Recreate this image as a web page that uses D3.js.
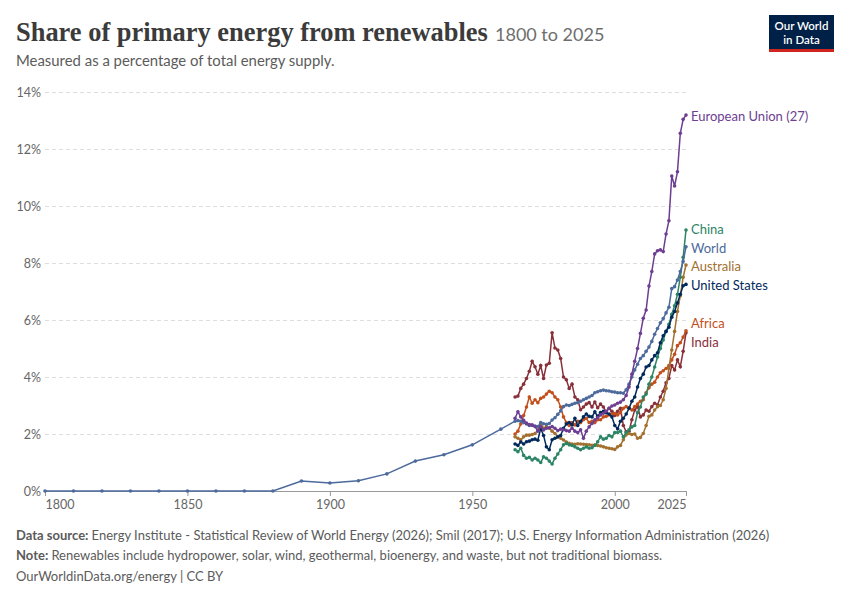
<!DOCTYPE html>
<html>
<head>
<meta charset="utf-8">
<script src="https://cdn.jsdelivr.net/npm/d3@7"></script>
<style>
body{margin:0;background:#fff;}
text{font-family:Lato,"Noto Sans",sans-serif;}
</style>
</head>
<body>
<svg id="chart" width="850" height="600"></svg>
<script>
var svgWidth=850;
var svgHeight=600;

// data (percent of primary energy)
var histYears=[1800,1810,1820,1830,1840,1850,1860,1870,1880,1890,1900,1910,1920,1930,1940,1950,1960];
var worldHist=[0,0,0,0,0,0,0,0,0,0.35,0.28,0.36,0.6,1.05,1.27,1.62,2.17];

var years=d3.range(1965,2026);

var euValues=[2.55,2.78,2.6,2.48,2.38,2.33,2.32,2.26,2.1,2.26,
  2.14,2.2,2.22,2.26,2.2,2.12,2.17,2.15,2.12,2.1,
  2.2,2.1,2.05,2.15,1.85,2.1,2.25,2.37,2.5,2.58,
  2.67,2.73,2.8,2.9,2.98,3.02,3.08,3.12,3.2,3.35,
  3.65,4.1,4.55,5.0,5.53,6.06,6.35,7.19,7.7,8.32,
  8.43,8.46,8.4,9.02,9.48,11.05,10.7,11.2,12.55,13.04,13.19];
var chinaValues=[1.45,1.38,1.5,1.25,1.15,1.18,1.09,1.15,1.09,1.0,
  1.2,1.15,1.05,0.95,1.15,1.3,1.45,1.62,1.67,1.62,
  1.6,1.55,1.5,1.45,1.5,1.55,1.5,1.52,1.6,1.73,
  1.9,1.82,1.85,1.95,1.9,2.05,2.05,2.1,1.9,2.05,
  2.15,2.25,2.3,2.75,2.95,3.3,3.4,3.75,4.0,4.35,
  4.7,5.0,5.3,5.6,5.85,6.2,6.5,6.9,7.5,8.2,9.16];
var worldValues=[2.45,2.47,2.45,2.4,2.35,2.3,2.3,2.28,2.26,2.4,
  2.36,2.34,2.37,2.49,2.57,2.69,2.81,2.96,3.02,3.0,
  3.04,3.08,3.1,3.15,3.2,3.25,3.3,3.35,3.45,3.48,
  3.52,3.54,3.52,3.51,3.48,3.47,3.45,3.45,3.43,3.55,
  3.75,4.0,4.25,4.45,4.65,4.75,4.9,5.05,5.25,5.5,
  5.7,5.9,6.05,6.25,6.45,7.1,7.17,7.4,7.7,8.05,8.57];
var australiaValues=[1.9,1.85,1.8,1.9,1.96,1.96,1.98,2.02,2.14,2.37,
  2.2,2.26,2.2,2.1,2.02,1.9,1.85,1.79,1.72,1.67,
  1.65,1.64,1.66,1.65,1.64,1.63,1.62,1.6,1.61,1.6,
  1.58,1.55,1.52,1.5,1.48,1.46,1.55,1.6,1.8,1.97,
  2.02,1.98,2.0,1.85,1.88,2.02,2.3,2.62,2.67,2.84,
  2.96,3.0,3.2,3.6,4.3,4.95,5.6,6.3,6.85,7.5,7.93];
var usValues=[1.65,1.6,1.72,1.65,1.73,1.75,1.8,1.82,1.78,2.2,
  1.95,1.55,1.45,1.8,1.85,1.9,1.95,2.2,2.35,2.4,
  2.32,2.55,2.3,2.45,2.6,2.7,2.62,2.6,2.78,2.62,
  2.75,2.8,2.75,2.7,2.6,2.3,2.18,2.45,2.55,2.7,
  2.9,3.15,3.3,3.65,3.95,4.1,4.35,4.4,4.6,4.75,
  4.85,5.2,5.45,5.6,5.75,6.1,6.3,6.6,6.9,7.2,7.25];
var africaValues=[2.0,2.1,2.35,2.65,2.95,3.3,3.08,3.2,3.1,3.25,
  3.3,3.4,3.5,3.45,3.3,3.2,2.95,2.6,2.4,2.3,
  2.4,2.32,2.45,2.4,2.5,2.55,2.4,2.45,2.4,2.5,
  2.5,2.6,2.62,2.67,2.7,2.72,2.67,2.75,2.9,2.96,
  2.92,2.84,2.96,3.05,3.15,3.2,3.45,3.62,3.75,3.82,
  4.0,4.15,4.22,4.3,4.4,4.6,4.8,5.1,5.2,5.4,5.62];
var indiaValues=[3.3,3.33,3.6,3.75,3.95,4.2,4.55,4.36,4.1,4.4,
  3.95,4.42,4.48,5.55,5.02,4.95,4.65,4.0,3.9,3.6,
  3.75,3.3,3.2,2.85,2.95,3.05,3.1,2.95,3.12,2.92,
  3.05,2.95,2.78,2.9,2.8,2.65,2.8,2.9,2.3,2.08,
  2.1,2.5,2.84,2.96,2.6,2.67,2.84,2.8,2.96,3.08,
  3.02,3.3,3.5,3.8,3.95,4.4,4.25,4.6,4.36,4.9,5.55];

var seriesNames=["European Union (27)","China","World","Australia","United States","Africa","India"];
var seriesColors=["#6d3e91","#2c8465","#4c6a9c","#a2702f","#00295b","#c2501c","#883039"];
var yTicks=[0,2,4,6,8,10,12,14];
var xTicks=[1800,1850,1900,1950,2000,2025];

var svg=d3.select("#chart");

var xScale=d3.scaleLinear().domain([1800,2025]).range([45,686]);
var yScale=d3.scaleLinear().domain([0,14]).range([491,92]);

// header
var title=svg.append("text")
    .attr("x",16).attr("y",41)
    .attr("fill","#3b3b3b")
    .style("font-family","'Liberation Serif','DejaVu Serif',serif")
    .style("font-weight","700")
    .style("font-size","26px")
    .text("Share of primary energy from renewables");
var tw=title.node().getComputedTextLength();
title.style("font-size",(26*472/tw)+"px");
svg.append("text")
    .attr("x",495).attr("y",41)
    .attr("fill","#6e6e6e")
    .style("font-size","18px")
    .text("1800 to 2025");
svg.append("text")
    .attr("x",16).attr("y",66)
    .attr("fill","#5b5b5b")
    .style("font-size","14.9px")
    .text("Measured as a percentage of total energy supply.");

// logo
svg.append("rect").attr("x",769).attr("y",15).attr("width",65).attr("height",37).attr("fill","#002147");
svg.append("rect").attr("x",769).attr("y",49).attr("width",65).attr("height",3).attr("fill","#ce261e");
svg.append("text").attr("x",801.5).attr("y",30).attr("text-anchor","middle")
    .attr("fill","#fff").style("font-size","11.5px").style("font-weight","600").text("Our World");
svg.append("text").attr("x",801.5).attr("y",44).attr("text-anchor","middle")
    .attr("fill","#fff").style("font-size","11.5px").style("font-weight","600").text("in Data");

// y grid + labels
var yAxis=svg.append("g")
    .attr("transform","translate(45,0)")
    .call(d3.axisLeft(yScale).tickValues(yTicks).tickSize(-641).tickFormat(function(d){return d+"%";}));
yAxis.select(".domain").remove();
yAxis.selectAll(".tick line")
    .attr("stroke","#dddddd")
    .attr("stroke-dasharray","4,3")
    .attr("stroke-width",function(d){return d===0?0:1;});
yAxis.selectAll(".tick text")
    .attr("x",-4)
    .attr("fill","#666")
    .style("font-size","12.5px")
    .style("font-family","Lato,sans-serif");

// x axis
var xAxis=svg.append("g")
    .attr("transform","translate(0,491)")
    .call(d3.axisBottom(xScale).tickValues(xTicks).tickSize(5).tickFormat(d3.format("d")));
xAxis.select(".domain").attr("stroke","#999").attr("d","M45,0.5H686");
xAxis.selectAll(".tick line").attr("stroke","#999");
xAxis.selectAll(".tick text")
    .attr("y",9)
    .attr("fill","#666")
    .style("font-size","12.5px")
    .style("font-family","Lato,sans-serif")
    .attr("text-anchor",function(d){return d===1800?"start":(d===2025?"end":"middle");});

// series
var allValues=[euValues,chinaValues,worldValues,australiaValues,usValues,africaValues,indiaValues];
var seriesData=seriesNames.map(function(name,i){
    var pts=years.map(function(y,j){return {year:y,value:allValues[i][j]};});
    if(name==="World"){
        pts=histYears.map(function(y,j){return {year:y,value:worldHist[j]};}).concat(pts);
    }
    return {name:name,color:seriesColors[i],points:pts};
});

var line=d3.line()
    .x(function(d){return xScale(d.year);})
    .y(function(d){return yScale(d.value);});

var drawOrder=[6,5,3,1,4,2,0];
var groups=svg.selectAll("g.series")
    .data(drawOrder.map(function(i){return seriesData[i];}))
    .enter()
    .append("g")
    .attr("class","series");

groups.append("path")
    .attr("fill","none")
    .attr("stroke",function(d){return d.color;})
    .attr("stroke-width",1.5)
    .attr("d",function(d){return line(d.points);});

groups.selectAll("circle")
    .data(function(d){return d.points.map(function(p){return {p:p,c:d.color};});})
    .enter()
    .append("circle")
    .attr("cx",function(d){return xScale(d.p.year);})
    .attr("cy",function(d){return yScale(d.p.value);})
    .attr("r",1.8)
    .attr("fill",function(d){return d.c;});

// end labels, pushed apart so they don't overlap
var labels=seriesData.map(function(s){
    var last=s.points[s.points.length-1];
    return {name:s.name,color:s.color,y:yScale(last.value)};
}).sort(function(a,b){return a.y-b.y;});
var gap=18.5;
for(var k=0;k<50;k++){
    for(var i=1;i<labels.length;i++){
        var ov=labels[i-1].y+gap-labels[i].y;
        if(ov>0){
            labels[i-1].y-=ov/2;
            labels[i].y+=ov/2;
        }
    }
}
svg.selectAll("text.endLabel")
    .data(labels)
    .enter()
    .append("text")
    .attr("class","endLabel")
    .attr("x",691)
    .attr("y",function(d){return d.y+1;})
    .attr("dy","0.35em")
    .attr("fill",function(d){return d.color;})
    .style("font-size","13px")
    .text(function(d){return d.name;});

// footer
var foot=svg.append("g").style("font-size","13px").attr("fill","#5b5b5b");
var t1=foot.append("text").attr("x",16).attr("y",540);
t1.append("tspan").style("font-weight","700").text("Data source: ");
t1.append("tspan").text("Energy Institute - Statistical Review of World Energy (2026); Smil (2017); U.S. Energy Information Administration (2026)");
var t2=foot.append("text").attr("x",16).attr("y",560);
t2.append("tspan").style("font-weight","700").text("Note: ");
t2.append("tspan").text("Renewables include hydropower, solar, wind, geothermal, bioenergy, and waste, but not traditional biomass.");
foot.append("text").attr("x",16).attr("y",581).text("OurWorldinData.org/energy | CC BY");
</script>
</body>
</html>
